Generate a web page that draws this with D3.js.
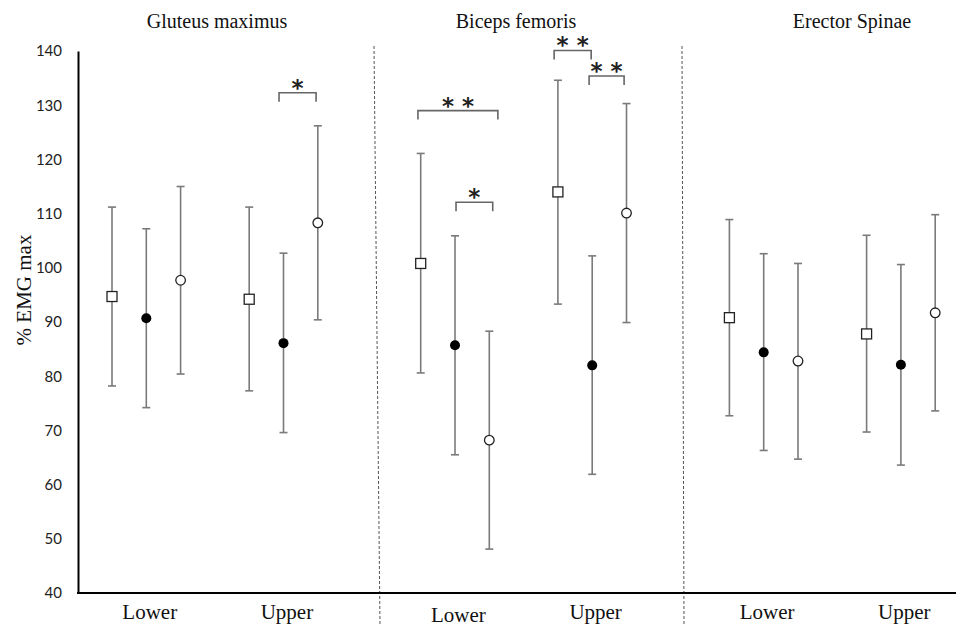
<!DOCTYPE html>
<html>
<head>
<meta charset="utf-8">
<script src="https://cdn.jsdelivr.net/npm/d3@7"></script>
<style>
html,body{margin:0;padding:0;background:#fff;}
svg{display:block;}
</style>
</head>
<body>
<svg id="chart" width="956" height="626"></svg>
<script>
// ---- data ----
const panels = ["Gluteus maximus", "Biceps femoris", "Erector Spinae"];
const positions = ["Lower", "Upper"];
const yTicks = [40, 50, 60, 70, 80, 90, 100, 110, 120, 130, 140];
// order: GM Lower, GM Upper, BF Lower, BF Upper, ES Lower, ES Upper
const meanSquare  = [94.7, 94.2, 100.8, 114.0, 90.8, 87.8];
const upperSquare = [111.2, 111.2, 121.1, 134.6, 108.9, 106.0];
const lowerSquare = [78.2, 77.3, 80.6, 93.3, 72.7, 69.7];
const meanFilled  = [90.7, 86.1, 85.7, 82.0, 84.4, 82.1];
const upperFilled = [107.2, 102.7, 105.9, 102.2, 102.6, 100.6];
const lowerFilled = [74.2, 69.6, 65.5, 61.9, 66.3, 63.6];
const meanOpen    = [97.7, 108.3, 68.2, 110.1, 82.8, 91.7];
const upperOpen   = [115.0, 126.2, 88.3, 130.3, 100.8, 109.8];
const lowerOpen   = [80.4, 90.4, 48.1, 89.9, 64.7, 73.6];
// significance brackets: from/to in slot units, level in % EMG max
const sigFrom  = [4.87, 8.92, 10.03, 12.89, 13.91];
const sigTo    = [5.95, 11.25, 11.1, 13.97, 14.93];
const sigLevel = [132.3, 129.0, 112.1, 140.1, 135.4];
const sigLabel = ["*", "* *", "*", "* *", "* *"];

// ---- layout ----
const svg = d3.select("#chart");
const y = d3.scaleLinear().domain([40, 140]).range([593, 51]);
const x = d3.scaleLinear().domain([0, 24]).range([112, 935.2]);
const axisX = 78;

const series = [
  {mean: meanSquare, hi: upperSquare, lo: lowerSquare, shape: "square"},
  {mean: meanFilled, hi: upperFilled, lo: lowerFilled, shape: "filled"},
  {mean: meanOpen,   hi: upperOpen,   lo: lowerOpen,   shape: "open"}
];

const points = [];
series.forEach((s, si) => {
  s.mean.forEach((m, k) => {
    const p = Math.floor(k / 2), g = k % 2;
    points.push({slot: p * 9 + g * 4 + si, mean: m, hi: s.hi[k], lo: s.lo[k], shape: s.shape});
  });
});

// dividers (dashed)
const dividerTop = [374, 682], dividerBot = [380, 684];
svg.selectAll("line.div").data(dividerTop).enter().append("line")
  .attr("x1", d => d).attr("x2", (d, i) => dividerBot[i])
  .attr("y1", 46).attr("y2", 626)
  .attr("stroke", "#555").attr("stroke-width", 1)
  .attr("stroke-dasharray", "3,2");

// axes
const yAxis = d3.axisLeft(y).tickValues(yTicks).tickSize(0).tickPadding(16);
const gy = svg.append("g").attr("transform", `translate(${axisX},0)`).call(yAxis);
gy.select(".domain").attr("stroke", "#000").attr("stroke-width", 2);
gy.selectAll("text").attr("font-family", "Lato, 'Open Sans', sans-serif")
  .attr("font-size", 15).attr("fill", "#222");

svg.append("line").attr("x1", axisX - 1).attr("x2", 956)
  .attr("y1", y(40)).attr("y2", y(40))
  .attr("stroke", "#000").attr("stroke-width", 2);

// error bars
const eb = svg.append("g").attr("stroke", "#7a7a7a").attr("stroke-width", 1.6);
points.forEach(d => {
  const cx = x(d.slot);
  eb.append("line").attr("x1", cx).attr("x2", cx).attr("y1", y(d.hi)).attr("y2", y(d.lo));
  eb.append("line").attr("x1", cx - 4).attr("x2", cx + 4).attr("y1", y(d.hi)).attr("y2", y(d.hi));
  eb.append("line").attr("x1", cx - 4).attr("x2", cx + 4).attr("y1", y(d.lo)).attr("y2", y(d.lo));
});

// markers
const mk = svg.append("g");
points.forEach(d => {
  const cx = x(d.slot), cy = y(d.mean);
  if (d.shape === "square") {
    mk.append("rect").attr("x", cx - 5).attr("y", cy - 5).attr("width", 10).attr("height", 10)
      .attr("fill", "#fff").attr("stroke", "#222").attr("stroke-width", 1.3);
  } else if (d.shape === "filled") {
    mk.append("circle").attr("cx", cx).attr("cy", cy).attr("r", 5).attr("fill", "#000");
  } else {
    mk.append("circle").attr("cx", cx).attr("cy", cy).attr("r", 4.8)
      .attr("fill", "#fff").attr("stroke", "#222").attr("stroke-width", 1.3);
  }
});

// significance brackets
const br = svg.append("g");
sigFrom.forEach((f, i) => {
  const x1 = x(f), x2 = x(sigTo[i]), yy = y(sigLevel[i]);
  br.append("path").attr("d", `M${x1},${yy + 9}V${yy}H${x2}V${yy + 9}`)
    .attr("fill", "none").attr("stroke", "#666").attr("stroke-width", 1.6);
  br.append("text").attr("x", (x1 + x2) / 2).attr("y", yy + 3)
    .attr("text-anchor", "middle")
    .attr("font-family", "'DejaVu Sans', sans-serif").attr("font-weight", "bold")
    .attr("font-size", 23).attr("fill", "#222").text(sigLabel[i]);
});

// panel titles
const titleCenters = [217, 516, 852];
panels.forEach((t, i) => {
  svg.append("text").attr("x", titleCenters[i]).attr("y", 28).attr("text-anchor", "middle")
    .attr("font-family", "'Liberation Serif', 'Times New Roman', serif")
    .attr("font-size", 20).attr("fill", "#111").text(t);
});

// category labels
panels.forEach((p, pi) => {
  positions.forEach((pos, gi) => {
    svg.append("text").attr("x", x(pi * 9 + gi * 4 + 1.1))
      .attr("y", (pi === 1 && gi === 0) ? 622 : 619)
      .attr("text-anchor", "middle")
      .attr("font-family", "'Liberation Serif', 'Times New Roman', serif")
      .attr("font-size", 21).attr("fill", "#111").text(pos);
  });
});

// y-axis title
svg.append("text").attr("transform", "translate(31,290) rotate(-90)")
  .attr("text-anchor", "middle")
  .attr("font-family", "'Liberation Serif', 'Times New Roman', serif")
  .attr("font-size", 21).attr("fill", "#111").text("% EMG max");
</script>
</body>
</html>
